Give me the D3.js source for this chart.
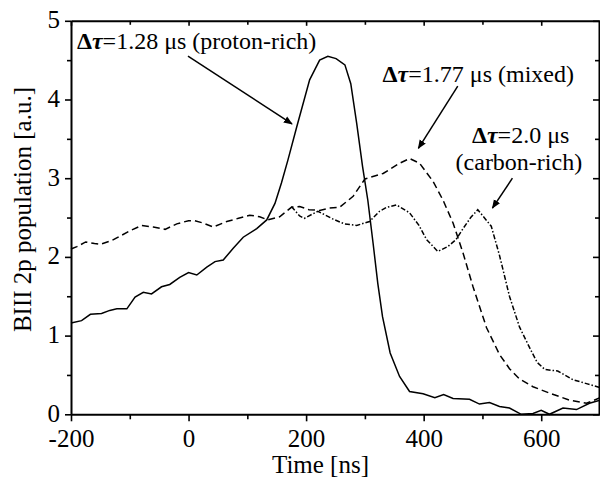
<!DOCTYPE html>
<html>
<head>
<meta charset="utf-8">
<script src="https://cdn.jsdelivr.net/npm/d3@7"></script>
<style>
  body { margin: 0; background: #fff; }
  svg { display: block; font-family: "Liberation Serif", "DejaVu Serif", serif; }
</style>
</head>
<body>
<div id="chart"></div>
<script>
// time [ns] and BIII 2p population [a.u.]
const protonT = [-200, -182, -167, -148, -134, -122, -105, -91, -77, -63, -46, -32, -15, 0, 14, 31, 45, 59, 76, 93, 116, 133, 147, 158, 169, 184, 206, 223, 237, 251, 266, 276, 286, 296, 305, 314, 322, 330, 343, 359, 376, 399, 419, 434, 450, 478, 495, 512, 529, 546, 566, 586, 600, 614, 637, 660, 682, 700];
const protonV = [1.16, 1.19, 1.27, 1.28, 1.32, 1.34, 1.34, 1.49, 1.55, 1.53, 1.62, 1.65, 1.74, 1.80, 1.77, 1.87, 1.94, 1.96, 2.11, 2.25, 2.36, 2.47, 2.68, 2.94, 3.23, 3.65, 4.25, 4.50, 4.55, 4.52, 4.44, 4.20, 3.70, 3.15, 2.72, 2.17, 1.66, 1.24, 0.78, 0.48, 0.29, 0.26, 0.21, 0.25, 0.20, 0.19, 0.13, 0.15, 0.10, 0.08, 0.0, 0.01, 0.05, 0.0, 0.08, 0.06, 0.14, 0.18];

const mixedT = [-200, -190, -175, -160, -150, -130, -115, -100, -80, -60, -40, -20, 0, 10, 25, 42, 65, 85, 104, 121, 135, 155, 175, 189, 205, 223, 240, 257, 280, 300, 331, 359, 376, 393, 416, 433, 450, 467, 484, 507, 529, 546, 563, 586, 614, 648, 677, 700];
const mixedV = [2.10, 2.13, 2.19, 2.17, 2.16, 2.21, 2.27, 2.33, 2.40, 2.38, 2.35, 2.42, 2.46, 2.46, 2.43, 2.38, 2.45, 2.49, 2.53, 2.51, 2.47, 2.51, 2.63, 2.64, 2.60, 2.59, 2.62, 2.63, 2.77, 2.99, 3.06, 3.19, 3.25, 3.19, 2.96, 2.72, 2.43, 2.05, 1.62, 1.10, 0.76, 0.58, 0.45, 0.35, 0.27, 0.18, 0.14, 0.21];

const carbonT = [175, 189, 197, 220, 246, 265, 286, 308, 325, 337, 354, 376, 392, 405, 424, 441, 455, 467, 480, 492, 515, 529, 546, 563, 580, 593, 606, 628, 654, 677, 700];
const carbonV = [2.64, 2.52, 2.49, 2.58, 2.48, 2.42, 2.40, 2.45, 2.58, 2.63, 2.66, 2.56, 2.40, 2.22, 2.07, 2.13, 2.22, 2.36, 2.50, 2.60, 2.39, 2.02, 1.50, 1.11, 0.85, 0.66, 0.57, 0.55, 0.44, 0.39, 0.34];

const xMajor = [-200, 0, 200, 400, 600];
const xMinor = [-100, 100, 300, 500];
const yMajor = [0, 1, 2, 3, 4, 5];
const yMinor = [0.5, 1.5, 2.5, 3.5, 4.5];

const width = 600, height = 481;
const margin = {top: 20.8, right: 0, bottom: 66.7, left: 71};

const x = d3.scaleLinear().domain([-200, 700]).range([margin.left, width - margin.right]);
const y = d3.scaleLinear().domain([0, 5]).range([height - margin.bottom, margin.top]);

const svg = d3.select("#chart").append("svg")
  .attr("width", width)
  .attr("height", height);

svg.append("defs").append("marker")
  .attr("id", "head")
  .attr("viewBox", "0 0 10 10")
  .attr("refX", 9).attr("refY", 5)
  .attr("markerWidth", 9).attr("markerHeight", 9)
  .attr("markerUnits", "userSpaceOnUse")
  .attr("orient", "auto")
  .append("path")
  .attr("d", "M0,1 L10,5 L0,9 Z")
  .attr("fill", "#000");

const line = d3.line()
  .x(d => x(d[0]))
  .y(d => y(d[1]));

const series = [
  {t: protonT, v: protonV, dash: null},
  {t: mixedT, v: mixedV, dash: "7,4"},
  {t: carbonT, v: carbonV, dash: "5,2,1.5,2"}
];

svg.append("g")
  .selectAll("path")
  .data(series)
  .join("path")
  .attr("d", s => line(s.t.map((t, i) => [t, s.v[i]])))
  .attr("fill", "none")
  .attr("stroke", "#000")
  .attr("stroke-width", 1.5)
  .attr("stroke-dasharray", s => s.dash);

// axes
const bottom = height - margin.bottom;
const plain = d => String(d);   // hyphen minus like the original, not U+2212
const styleAxis = g => {
  g.selectAll(".domain").attr("stroke", "#000").attr("stroke-width", 2);
  g.selectAll(".tick line").attr("stroke", "#000").attr("stroke-width", 1.6);
  g.selectAll(".tick text").attr("fill", "#000").style("font-size", "25px")
    .style("font-family", "'Liberation Serif', serif");
};

svg.append("g")
  .attr("transform", `translate(0,${bottom})`)
  .call(d3.axisBottom(x).tickValues(xMajor).tickSize(7).tickSizeOuter(0).tickPadding(8).tickFormat(plain))
  .call(styleAxis);
svg.append("g")
  .attr("transform", `translate(0,${bottom})`)
  .call(d3.axisBottom(x).tickValues(xMinor).tickSize(5).tickFormat(""))
  .call(styleAxis).call(g => g.select(".domain").remove());

svg.append("g")
  .attr("transform", `translate(0,${margin.top})`)
  .call(d3.axisTop(x).tickValues(xMajor).tickSize(-5).tickSizeOuter(0).tickFormat(""))
  .call(styleAxis);
svg.append("g")
  .attr("transform", `translate(0,${margin.top})`)
  .call(d3.axisTop(x).tickValues(xMinor).tickSize(-4).tickFormat(""))
  .call(styleAxis).call(g => g.select(".domain").remove());

svg.append("g")
  .attr("transform", `translate(${margin.left},0)`)
  .call(d3.axisLeft(y).tickValues(yMajor).tickSize(6).tickSizeOuter(0).tickPadding(5).tickFormat(plain))
  .call(styleAxis)
  .call(g => g.selectAll(".tick text").attr("dy", "0.28em"));
svg.append("g")
  .attr("transform", `translate(${margin.left},0)`)
  .call(d3.axisLeft(y).tickValues(yMinor).tickSize(4).tickFormat(""))
  .call(styleAxis).call(g => g.select(".domain").remove());

svg.append("g")
  .attr("transform", `translate(${width - 1},0)`)
  .call(d3.axisRight(y).tickValues(yMajor).tickSize(-6).tickSizeOuter(0).tickFormat(""))
  .call(styleAxis);
svg.append("g")
  .attr("transform", `translate(${width - 1},0)`)
  .call(d3.axisRight(y).tickValues(yMinor).tickSize(-4).tickFormat(""))
  .call(styleAxis).call(g => g.select(".domain").remove());

// axis titles
svg.append("text")
  .attr("x", (x(-200) + x(700)) / 2 - 15)
  .attr("y", 473)
  .attr("text-anchor", "middle")
  .style("font-size", "25px")
  .text("Time [ns]");

svg.append("text")
  .attr("transform", `translate(31,${(y(0) + y(5)) / 2 - 8}) rotate(-90)`)
  .attr("text-anchor", "middle")
  .style("font-size", "25px")
  .text("BIII 2p population [a.u.]");

// annotations (positions in data units)
const labels = [
  {t: -190, v: 4.64, anchor: "start", parts: ["1.28 μs (proton-rich)"], delta: true},
  {t: 330, v: 4.22, anchor: "start", parts: ["1.77 μs (mixed)"], delta: true},
  {t: 565, v: 3.45, anchor: "middle", parts: ["2.0 μs"], delta: true},
  {t: 562, v: 3.10, anchor: "middle", parts: ["(carbon-rich)"], delta: false}
];

labels.forEach(l => {
  const txt = svg.append("text")
    .attr("x", x(l.t))
    .attr("y", y(l.v))
    .attr("text-anchor", l.anchor)
    .style("font-size", "24px");
  if (l.delta) {
    txt.append("tspan").style("font-weight", "bold").text("Δ");
    txt.append("tspan").style("font-weight", "bold").style("font-style", "italic").text("τ");
    txt.append("tspan").text("=");
  }
  txt.append("tspan").text(l.parts[0]);
});

const arrows = [
  {from: [-1, 4.55], to: [176, 3.69]},
  {from: [458, 4.17], to: [391, 3.38]},
  {from: [551, 3.00], to: [517, 2.62]}
];

svg.append("g")
  .selectAll("line")
  .data(arrows)
  .join("line")
  .attr("x1", d => x(d.from[0]))
  .attr("y1", d => y(d.from[1]))
  .attr("x2", d => x(d.to[0]))
  .attr("y2", d => y(d.to[1]))
  .attr("stroke", "#000")
  .attr("stroke-width", 1.5)
  .attr("marker-end", "url(#head)");
</script>
</body>
</html>
